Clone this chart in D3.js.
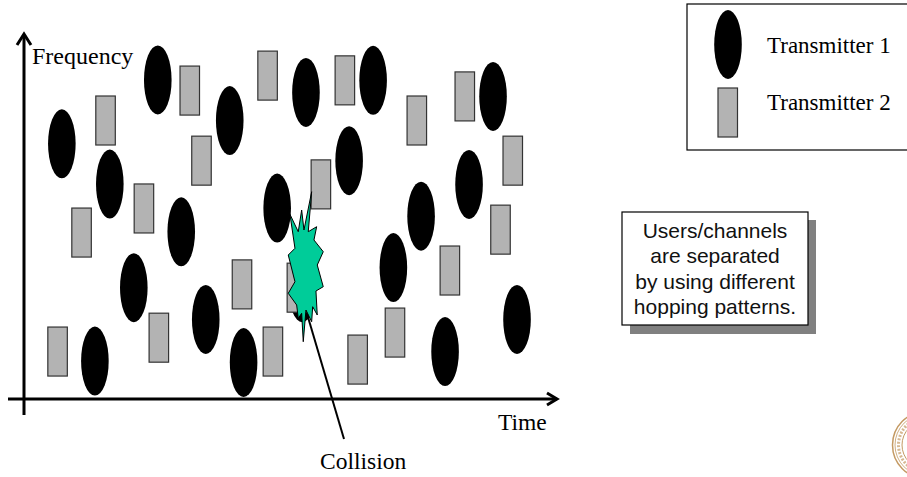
<!DOCTYPE html>
<html><head><meta charset="utf-8">
<script src="https://cdn.jsdelivr.net/npm/d3@7"></script>
<style>html,body{margin:0;padding:0;background:#fff;overflow:hidden}</style>
</head><body>
<svg id="c" width="907" height="477"></svg>
<script>
// Transmitter 1 hops (time, frequency) — ellipses
const tx1Time = [7.1, 25.1, 16.1, 38.6, 29.5, 47.5, 20.6, 13.3, 34.1, 41.2, 52.9, 65.5, 61.0, 52.2, 69.3, 74.5, 79.0, 83.5, 88.0, 92.5];
const tx1Freq = [69.9, 87.4, 58.9, 76.3, 45.8, 52.3, 30.5, 10.4, 21.8, 10.0, 84.0, 87.3, 65.3, 30.5, 36.0, 50.1, 13.0, 58.8, 82.9, 21.8];
// Transmitter 2 hops (time, frequency) — rectangles
const tx2Time = [15.3, 10.8, 22.5, 31.1, 33.3, 45.7, 6.3, 25.3, 40.9, 46.7, 51.2, 55.7, 60.2, 62.6, 69.6, 73.7, 79.9, 82.7, 89.4, 91.7];
const tx2Freq = [76.3, 45.6, 52.2, 84.5, 65.3, 88.6, 13.0, 16.8, 31.4, 13.0, 30.5, 58.8, 87.3, 10.8, 18.2, 76.3, 35.2, 82.9, 46.4, 65.3];
// collision point
const collision = [51.7, 30.6];
const seriesNames = ["Transmitter 1", "Transmitter 2"];
const axisLabels = ["Frequency", "Time"];
const noteLines = ["Users/channels", "are separated", "by using different", "hopping patterns."];

const svg = d3.select("#c");
const x = d3.scaleLinear().domain([0, 100]).range([24, 557]);
const y = d3.scaleLinear().domain([0, 100]).range([399, 34]);
const RX = 13.8, RY = 34.5, RW = 19.5, RH = 49;
const serif = "'Liberation Serif','Times New Roman',serif";
const sans = "'Liberation Sans',Arial,sans-serif";

const tx1 = tx1Time.map((t, i) => ({t, f: tx1Freq[i]}));
const tx2 = tx2Time.map((t, i) => ({t, f: tx2Freq[i]}));

// axes
const ax = svg.append("g").attr("stroke", "#000").attr("stroke-width", 3).attr("fill", "none");
ax.append("line").attr("x1", x(0)).attr("x2", x(0)).attr("y1", y(100) + 1).attr("y2", 415);
ax.append("line").attr("x1", 8).attr("x2", x(100)).attr("y1", y(0)).attr("y2", y(0));
ax.append("path").attr("d", `M${x(0)-7},${y(100)+11} L${x(0)},${y(100)} L${x(0)+7},${y(100)+11}`);
ax.append("path").attr("d", `M${x(100)-10},${y(0)-6} L${x(100)},${y(0)} L${x(100)-10},${y(0)+6}`);

svg.append("text").attr("x", 32).attr("y", 64).attr("font-family", serif).attr("font-size", 24).text(axisLabels[0]);
svg.append("text").attr("x", 498).attr("y", 430).attr("font-family", serif).attr("font-size", 23.5).text(axisLabels[1]);

// marks
svg.append("g").selectAll("ellipse").data(tx1).join("ellipse")
  .attr("cx", d => x(d.t)).attr("cy", d => y(d.f)).attr("rx", RX).attr("ry", RY).attr("fill", "#000");
svg.append("g").selectAll("rect").data(tx2).join("rect")
  .attr("x", d => x(d.t) - RW / 2).attr("y", d => y(d.f) - RH / 2).attr("width", RW).attr("height", RH)
  .attr("fill", "#b3b3b3").attr("stroke", "#333").attr("stroke-width", 1.2);

// collision star
const cx = x(collision[0]), cy = y(collision[1]);
const starPts = [[-9.6,-73],[-1.3,-55.6],[2.1,-77.3],[4.4,-57.3],[12.1,-95.6],[8.7,-55.6],[17.1,-60.6],[14.4,-47.3],[23.7,-35.6],[17.7,-22.3],[23.7,-0.6],[16.4,3.7],[17.7,27.7],[13.1,19.4],[12.1,34.4],[6.4,22.7],[3.7,54.4],[2.1,26],[-1.3,31],[-2.9,17.7],[-11.3,6],[-4.6,-5.6],[-11.3,-32.3],[-4.6,-39]];
svg.append("path").attr("d", "M" + starPts.map(p => (cx + p[0]) + "," + (cy + p[1])).join("L") + "Z")
  .attr("fill", "#00cc99").attr("stroke", "#000").attr("stroke-width", 1);
svg.append("line").attr("x1", cx + 8.4).attr("y1", cy + 29.7).attr("x2", 344).attr("y2", 439)
  .attr("stroke", "#000").attr("stroke-width", 2);
svg.append("text").attr("x", 320).attr("y", 469).attr("font-family", serif).attr("font-size", 23.5).text("Collision");

// legend
svg.append("rect").attr("x", 687).attr("y", 4).attr("width", 240).attr("height", 146).attr("fill", "#fff").attr("stroke", "#000").attr("stroke-width", 1.2);
svg.append("ellipse").attr("cx", 728).attr("cy", 44.5).attr("rx", RX).attr("ry", RY).attr("fill", "#000");
svg.append("rect").attr("x", 718).attr("y", 88).attr("width", RW).attr("height", RH).attr("fill", "#b3b3b3").attr("stroke", "#333").attr("stroke-width", 1.2);
svg.append("text").attr("x", 767).attr("y", 53).attr("font-family", serif).attr("font-size", 23).text(seriesNames[0]);
svg.append("text").attr("x", 767).attr("y", 110).attr("font-family", serif).attr("font-size", 23).text(seriesNames[1]);

// note box with shadow
svg.append("rect").attr("x", 630).attr("y", 220).attr("width", 186).attr("height", 114).attr("fill", "#808080");
svg.append("rect").attr("x", 622).attr("y", 212).attr("width", 186).attr("height", 113).attr("fill", "#fff").attr("stroke", "#000").attr("stroke-width", 1.2);
svg.append("g").selectAll("text").data(noteLines).join("text")
  .attr("x", 715).attr("y", (d, i) => 238 + i * 25.4).attr("text-anchor", "middle")
  .attr("font-family", sans).attr("font-size", 21).attr("fill", "#111").text(d => d);

// seal (partially visible)
const seal = svg.append("g").attr("fill", "none").attr("stroke", "#c49a63");
seal.append("circle").attr("cx", 926).attr("cy", 445).attr("r", 33.5).attr("stroke-width", 1.5);
seal.append("circle").attr("cx", 926).attr("cy", 445).attr("r", 31).attr("stroke-width", 0.8);
seal.append("circle").attr("cx", 926).attr("cy", 445).attr("r", 24).attr("stroke-width", 1);
seal.append("circle").attr("cx", 926).attr("cy", 445).attr("r", 27.5).attr("stroke-width", 3).attr("stroke-dasharray", "2 1.5").attr("opacity", 0.7);
</script>
</body></html>
